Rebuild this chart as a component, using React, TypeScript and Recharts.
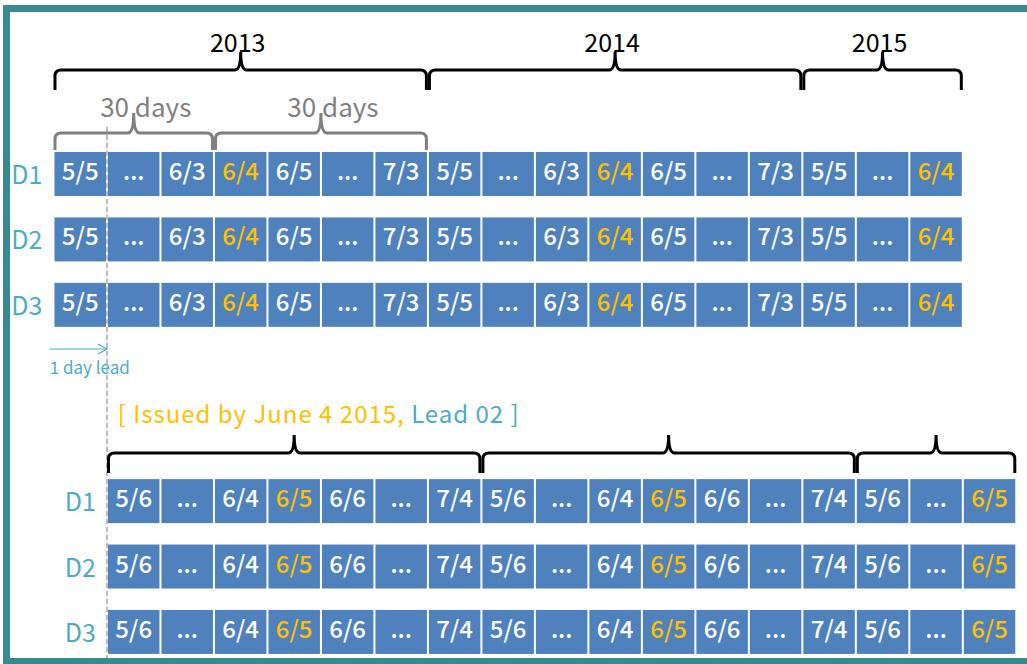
import { ComposedChart, ReferenceDot, ReferenceLine, Scatter, XAxis, YAxis } from "recharts";

// rows and dates
const DAY_ROWS = ["D1", "D2", "D3"];
const TOP_ROW_INDEX = [0, 1, 2];
const LEAD_ROW_INDEX = [5, 6, 7];
const TOP_DATES = ["5/5", "...", "6/3", "6/4", "6/5", "...", "7/3", "5/5", "...", "6/3", "6/4", "6/5", "...", "7/3", "5/5", "...", "6/4"];
const LEAD_DATES = ["5/6", "...", "6/4", "6/5", "6/6", "...", "7/4", "5/6", "...", "6/4", "6/5", "6/6", "...", "7/4", "5/6", "...", "6/5"];
const TOP_TARGET = "6/4";
const LEAD_TARGET = "6/5";
const YEARS = ["2013", "2014", "2015"];
const YEAR_BOUNDS = [0, 7, 14, 17];
const WINDOW_BOUNDS = [0, 3, 7];
const WINDOW_LABEL = "30 days";
const LEAD_DAYS = 1;
const ISSUED_TEXT = "[ Issued by June 4 2015, ";
const LEAD_TEXT = "Lead 02 ]";
const ARROW_TEXT = "1 day lead";

const W = 1027;
const H = 664;
const X_DOMAIN: [number, number] = [-1, 18.2];
const Y_DOMAIN: [number, number] = [-2.66, 7.49];
const CELL_W = W / (X_DOMAIN[1] - X_DOMAIN[0]);
const CELL_H = 44;
const YEAR_BRACE_Y = -1.59;
const WINDOW_BRACE_Y = -0.627;
const LEAD_BRACE_Y = 4.264;
const ARROW_Y = 2.675;
const ISSUED_Y = 3.806;

const BLUE = "#4F81BD";
const ORANGE = "#FFC000";
const TEAL = "#4BACC6";
const GRAY = "#7F7F7F";
const FONT = "'Noto Sans CJK KR', 'Noto Sans', sans-serif";

const buildCells = (dates: string[], target: string, rows: number[], offset: number) =>
    rows.flatMap((y) => dates.map((label, i) => ({ x: offset + i + 0.5, y, label, hl: label === target })));

const cells = [...buildCells(TOP_DATES, TOP_TARGET, TOP_ROW_INDEX, 0), ...buildCells(LEAD_DATES, LEAD_TARGET, LEAD_ROW_INDEX, LEAD_DAYS)];
const rowLabels = [
    ...TOP_ROW_INDEX.map((y, i) => ({ x: -0.5, y, label: DAY_ROWS[i] })),
    ...LEAD_ROW_INDEX.map((y, i) => ({ x: LEAD_DAYS - 0.5, y, label: DAY_ROWS[i] })),
];

const CellShape = (p: any) => {
    const { cx, cy, payload } = p;
    return (
        <g>
            <rect x={cx - CELL_W / 2 + 1} y={cy - CELL_H / 2} width={CELL_W - 2} height={CELL_H} fill={BLUE} />
            <text x={cx} y={cy + 6} textAnchor="middle" fill={payload.hl ? ORANGE : "#fff"} fontSize={24} fontWeight={500} fontFamily={FONT}>
                {payload.label}
            </text>
        </g>
    );
};

const RowLabelShape = (p: any) => (
    <text x={p.cx} y={p.cy + 10} textAnchor="middle" fill={TEAL} fontSize={25} fontFamily={FONT}>
        {p.payload.label}
    </text>
);

function bracePath(x1: number, x2: number, y: number, up: number, down: number, r: number) {
    const xm = (x1 + x2) / 2;
    return `M${x1},${y + down} L${x1},${y + r} Q${x1},${y} ${x1 + r},${y} L${xm - r},${y} Q${xm},${y} ${xm},${y - up} Q${xm},${y} ${xm + r},${y} L${x2 - r},${y} Q${x2},${y} ${x2},${y + r} L${x2},${y + down}`;
}

const braceShape = (opts: { color: string; up: number; down: number; label?: string; fontSize?: number; dx?: number; dy?: number }) => (p: any) => {
    const x1 = Math.min(p.x1, p.x2) + 1.5;
    const x2 = Math.max(p.x1, p.x2) - 1.5;
    const y = p.y1;
    return (
        <g>
            <path d={bracePath(x1, x2, y, opts.up, opts.down, 6)} fill="none" stroke={opts.color} strokeWidth={3} />
            {opts.label && (
                <text x={(x1 + x2) / 2 + (opts.dx ?? 0)} y={y + (opts.dy ?? 0)} textAnchor="middle" fill={opts.color} fontSize={opts.fontSize ?? 25} fontFamily={FONT}>
                    {opts.label}
                </text>
            )}
        </g>
    );
};

const ArrowShape = (p: any) => {
    const { x1, x2, y1 } = p;
    return (
        <g>
            <line x1={x1} y1={y1} x2={x2} y2={y1} stroke={TEAL} strokeWidth={1.2} />
            <path d={`M${x2 - 9},${y1 - 5} L${x2},${y1} L${x2 - 9},${y1 + 5}`} fill="none" stroke={TEAL} strokeWidth={1.2} />
            <text x={x1} y={y1 + 25} fill={TEAL} fontSize={17} fontFamily={FONT}>
                {ARROW_TEXT}
            </text>
        </g>
    );
};

const IssuedShape = (p: any) => (
    <text x={p.cx} y={p.cy} fontSize={24} fontFamily={FONT} letterSpacing={1}>
        <tspan fill={ORANGE}>{ISSUED_TEXT}</tspan>
        <tspan fill={TEAL}>{LEAD_TEXT}</tspan>
    </text>
);

export default function App() {
    return (
        <div style={{ position: "absolute", left: 0, top: 0, width: W, height: H, overflow: "hidden", background: "#fff" }}>
            <ComposedChart width={W} height={H} margin={{ top: 0, right: 0, bottom: 0, left: 0 }}>
                <XAxis type="number" dataKey="x" domain={X_DOMAIN} hide allowDataOverflow />
                <YAxis type="number" dataKey="y" domain={Y_DOMAIN} reversed hide allowDataOverflow />
                <ReferenceLine
                    segment={[{ x: LEAD_DAYS, y: -0.72 }, { x: LEAD_DAYS, y: Y_DOMAIN[1] }]}
                    stroke="#A6A6A6"
                    strokeWidth={1.5}
                    strokeDasharray="5 3"
                />
                {YEARS.map((yr, i) => (
                    <ReferenceLine
                        key={"top" + yr}
                        segment={[{ x: YEAR_BOUNDS[i], y: YEAR_BRACE_Y }, { x: YEAR_BOUNDS[i + 1], y: YEAR_BRACE_Y }]}
                        shape={braceShape({ color: "#000", up: 18, down: 20, label: yr, dx: -3, dy: -18 })}
                    />
                ))}
                {WINDOW_BOUNDS.slice(0, -1).map((b, i) => (
                    <ReferenceLine
                        key={"win" + i}
                        segment={[{ x: b, y: WINDOW_BRACE_Y }, { x: WINDOW_BOUNDS[i + 1], y: WINDOW_BRACE_Y }]}
                        shape={braceShape({ color: GRAY, up: 20, down: 17, label: WINDOW_LABEL, fontSize: 26, dx: 12, dy: -16 })}
                    />
                ))}
                {YEARS.map((yr, i) => (
                    <ReferenceLine
                        key={"lead" + yr}
                        segment={[{ x: YEAR_BOUNDS[i] + LEAD_DAYS, y: LEAD_BRACE_Y }, { x: YEAR_BOUNDS[i + 1] + LEAD_DAYS, y: LEAD_BRACE_Y }]}
                        shape={braceShape({ color: "#000", up: 18, down: 20 })}
                    />
                ))}
                <ReferenceLine segment={[{ x: -0.07, y: ARROW_Y }, { x: LEAD_DAYS, y: ARROW_Y }]} shape={ArrowShape} />
                <ReferenceDot x={LEAD_DAYS + 0.2} y={ISSUED_Y} shape={IssuedShape} />
                <Scatter data={cells} shape={CellShape} isAnimationActive={false} />
                <Scatter data={rowLabels} shape={RowLabelShape} isAnimationActive={false} />
            </ComposedChart>
            <div
                style={{
                    position: "absolute",
                    left: 3,
                    top: 5,
                    width: 1100,
                    height: 660,
                    border: "7px solid #378A8F",
                    boxSizing: "border-box",
                    pointerEvents: "none",
                }}
            />
        </div>
    );
}
